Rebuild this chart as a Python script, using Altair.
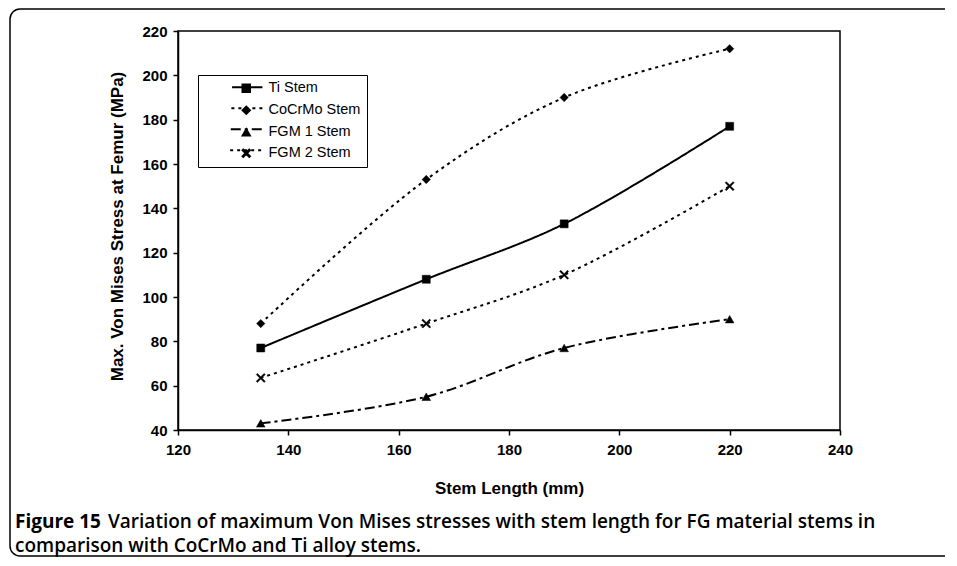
import altair as alt
import pandas as pd

# ---- data ----
stem_length = [135, 165, 190, 220]
series_names = ["Ti Stem", "CoCrMo Stem", "FGM 1 Stem", "FGM 2 Stem"]
ti_stem = [77, 108, 133, 177]
cocrmo_stem = [88, 153, 190, 212]
fgm1_stem = [43, 55, 77, 90]
fgm2_stem = [63.5, 88, 110, 150]
x_ticks = [120, 140, 160, 180, 200, 220, 240]
y_ticks = [40, 60, 80, 100, 120, 140, 160, 180, 200, 220]
caption_bold = ["Figure 15"]
caption_rest = ["Variation of maximum Von Mises stresses with stem length for FG material stems in",
                "comparison with CoCrMo and Ti alloy stems."]

values = [ti_stem, cocrmo_stem, fgm1_stem, fgm2_stem]
rows = []
for name, vals in zip(series_names, values):
    for xv, yv in zip(stem_length, vals):
        rows.append({"series": name, "length": xv, "stress": yv})
df = pd.DataFrame(rows)

W, H = 662, 399
FONT = "Liberation Sans"

# ---- styles ----
dashes = [[1, 0], [3, 4], [10, 4, 3, 4], [3, 4]]
a = 0.25
x_path = (f"M-1,{-1+a}L{-1+a},-1L0,{-a}L{1-a},-1L1,{-1+a}L{a},0L1,{1-a}L{1-a},1"
          f"L0,{a}L{-1+a},1L-1,{1-a}L{-a},0Z")
marker_shapes = ["square", "diamond", "triangle-up", x_path]
marker_sizes = [64, 81, 40, 64]

LBL = 15
TTL = 17
x_enc = alt.X("length:Q", scale=alt.Scale(domain=[120, 240], nice=False),
              axis=alt.Axis(values=x_ticks, grid=False, tickSize=5, tickColor="black",
                            tickWidth=1.5, domainColor="black", domainWidth=1.5,
                            labelFont=FONT, labelFontSize=LBL, labelFontWeight="bold",
                            labelColor="black", labelPadding=7, labelFlush=False,
                            title="Stem Length (mm)", titleFont=FONT, titleFontSize=TTL,
                            titleFontWeight="bold", titleColor="black", titleY=58,
                            titleBaseline="middle"))
y_enc = alt.Y("stress:Q", scale=alt.Scale(domain=[40, 220], nice=False),
              axis=alt.Axis(values=y_ticks, grid=False, tickSize=5, tickColor="black",
                            tickWidth=1.5, domainColor="black", domainWidth=1.5,
                            labelFont=FONT, labelFontSize=LBL, labelFontWeight="bold",
                            labelColor="black", labelPadding=6, labelFlush=False,
                            title="Max. Von Mises Stress at Femur (MPa)", titleFont=FONT,
                            titleFontSize=TTL, titleFontWeight="bold", titleColor="black",
                            titleX=-61, titleY=195, titleAngle=270,
                            titleBaseline="middle", titleAlign="center"))

base = alt.Chart(df)

# legend 1: line samples only (its labels are invisible and kept out of the way)
lines = base.mark_line(interpolate="catmull-rom", color="black", strokeWidth=2).encode(
    x=x_enc, y=y_enc,
    detail="series:N",
    strokeDash=alt.StrokeDash(
        "series:N", scale=alt.Scale(domain=series_names, range=dashes),
        legend=alt.Legend(orient="top-left", offset=20, padding=29, title=None,
                          symbolType="M-3.8,0H3.8", symbolSize=100, symbolOffset=13,
                          symbolStrokeColor="black", symbolStrokeWidth=2,
                          labelOpacity=0, labelFont=FONT, labelFontSize=14.5,
                          labelOffset=160, rowPadding=6, labelLimit=200)),
)

# legend 2: markers, labels and box
markers = base.mark_point(filled=True, color="black", stroke="black", strokeWidth=0.5,
                          opacity=1).encode(
    x=x_enc, y=y_enc,
    shape=alt.Shape(
        "series:N", scale=alt.Scale(domain=series_names, range=marker_shapes),
        legend=alt.Legend(orient="none", legendX=20, legendY=44, title=None,
                          strokeColor="black", padding=6, symbolSize=64,
                          symbolOffset=35, symbolFillColor="black", symbolOpacity=1,
                          labelOffset=15, labelFont=FONT, labelFontSize=14.5,
                          labelColor="black", rowPadding=6, labelLimit=200)),
    size=alt.Size("series:N", scale=alt.Scale(domain=series_names, range=marker_sizes),
                  legend=None),
)

one = pd.DataFrame({"bold": caption_bold, "l1": caption_rest[0:1], "l2": caption_rest[1:2]})
cap = alt.Chart(one)
CAPF = 19
cap_bold = cap.mark_text(align="left", baseline="middle", font="Open Sans", fontSize=CAPF,
                         fontWeight="bold", color="black").encode(
    text="bold:N", x=alt.value(-163), y=alt.value(490.5))
cap_l1 = cap.mark_text(align="left", baseline="middle", font="Open Sans", fontSize=CAPF,
                       fontWeight=600, color="black").encode(
    text="l1:N", x=alt.value(-70), y=alt.value(490.5))
cap_l2 = cap.mark_text(align="left", baseline="middle", font="Open Sans", fontSize=CAPF,
                       fontWeight=600, color="black").encode(
    text="l2:N", x=alt.value(-163), y=alt.value(515))
frame = cap.mark_rect(fillOpacity=0, stroke="black", strokeWidth=1.5, cornerRadius=10).encode(
    x=alt.value(-168), x2=alt.value(820), y=alt.value(-22), y2=alt.value(525))

chart = alt.layer(frame, lines, markers, cap_bold, cap_l1, cap_l2).properties(
    width=W, height=H,
    autosize=alt.AutoSizeParams(type="none"),
    padding={"left": 170, "top": 23, "right": 105, "bottom": 127},
    background="white",
).configure_view(stroke="black", strokeWidth=1.5)

chart.save("out.html", embed_options={"renderer": "svg", "actions": False})
